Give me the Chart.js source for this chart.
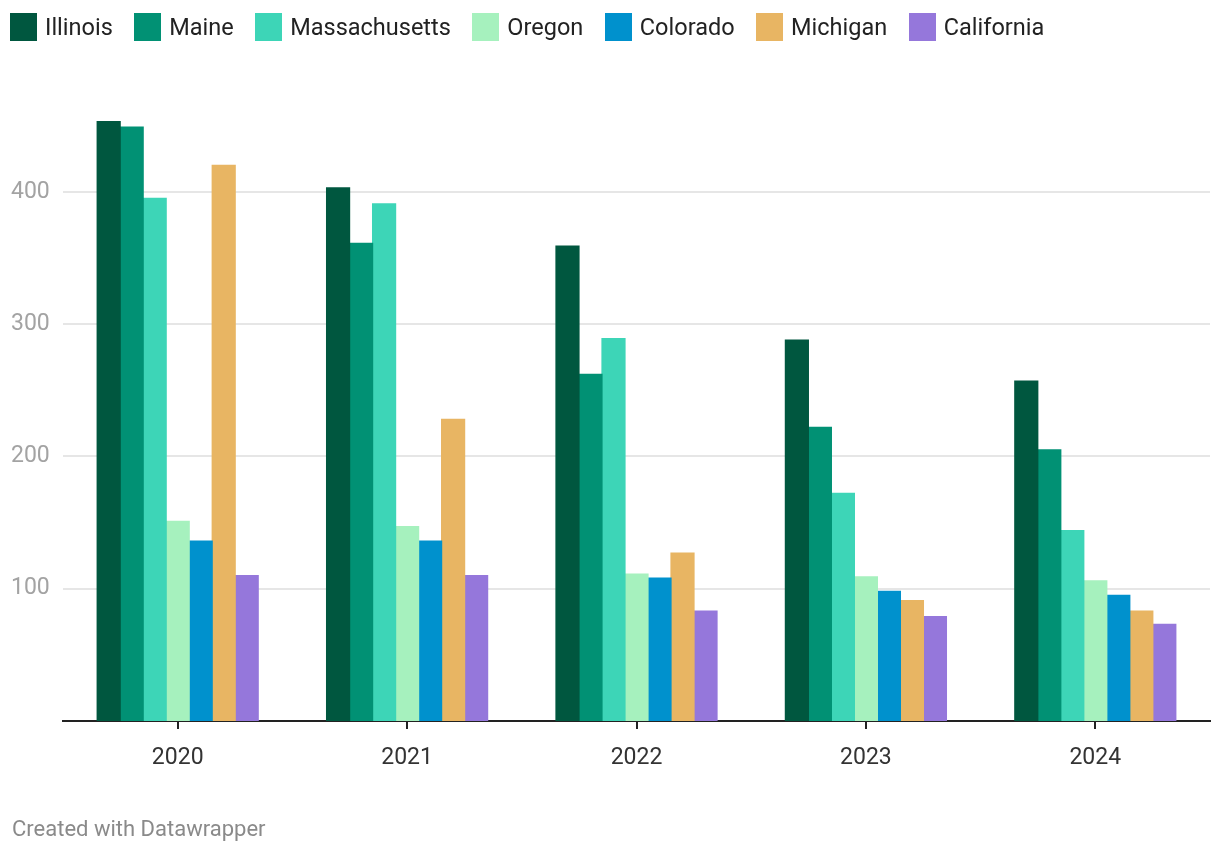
<!DOCTYPE html>
<html>
<head>
<meta charset="utf-8">
<script src="https://cdn.jsdelivr.net/npm/chart.js@4.4.0/dist/chart.umd.min.js"></script>
<style>
  html, body { margin: 0; padding: 0; background: #fff; }
  body { width: 1220px; height: 854px; position: relative; overflow: hidden; font-family: Roboto, "Noto Sans", sans-serif; }
  #legend { position: absolute; left: 10px; top: 13px; display: flex; gap: 21.5px; align-items: center; }
  .item { display: flex; align-items: center; }
  .box { width: 27px; height: 28px; margin-right: 8px; }
  .lab { font-size: 23.5px; color: #222; line-height: 28px; }
  #wrap { position: absolute; left: 0; top: 0; width: 1220px; height: 854px; }
  #footer { position: absolute; left: 12px; top: 815px; font-size: 22px; color: #8a8a8a; line-height: 28px; }
</style>
</head>
<body>
<div id="wrap"><canvas id="c" width="1220" height="854"></canvas></div>
<div id="legend"></div>
<div id="footer">Created with Datawrapper</div>
<script>
const categories = ["2020", "2021", "2022", "2023", "2024"];
const seriesNames = ["Illinois", "Maine", "Massachusetts", "Oregon", "Colorado", "Michigan", "California"];
const seriesColors = ["#00573f", "#019174", "#3dd5b7", "#a6f1be", "#0091cd", "#e8b563", "#9577db"];
const illinois      = [453, 403, 359, 288, 257];
const maine         = [449, 361, 262, 222, 205];
const massachusetts = [395, 391, 289, 172, 144];
const oregon        = [151, 147, 111, 109, 106];
const colorado      = [136, 136, 108, 98, 95];
const michigan      = [420, 228, 127, 91, 83];
const california    = [110, 110, 83, 79, 73];
const yTicks = [100, 200, 300, 400];

const seriesValues = [illinois, maine, massachusetts, oregon, colorado, michigan, california];

const legend = document.getElementById('legend');
seriesNames.forEach((n, i) => {
  const it = document.createElement('div'); it.className = 'item';
  const b = document.createElement('div'); b.className = 'box'; b.style.background = seriesColors[i];
  const l = document.createElement('span'); l.className = 'lab'; l.textContent = n;
  it.appendChild(b); it.appendChild(l); legend.appendChild(it);
});

new Chart(document.getElementById('c'), {
  type: 'bar',
  data: {
    labels: categories,
    datasets: seriesNames.map((n, i) => ({
      label: n,
      data: seriesValues[i],
      backgroundColor: seriesColors[i],
      borderWidth: 0,
      inflateAmount: 0.6,
      categoryPercentage: 0.702,
      barPercentage: 1.0
    }))
  },
  options: {
    responsive: false,
    animation: false,
    devicePixelRatio: 1,
    layout: { padding: { top: 86, left: 11, right: 10, bottom: 83 } },
    plugins: { legend: { display: false }, tooltip: { enabled: false } },
    scales: {
      x: {
        afterFit: s => { s.height = 50; },
        grid: { display: true, drawOnChartArea: false, drawTicks: true, tickLength: 8, offset: false, color: '#222', lineWidth: 2 },
        border: { display: true, color: '#222', width: 2 },
        ticks: { font: { family: 'Roboto', size: 23 }, color: '#333', padding: 15 }
      },
      y: {
        min: 0, max: 480,
        afterFit: s => { s.width = 52; },
        afterBuildTicks: s => { s.ticks = yTicks.map(v => ({ value: v })); },
        grid: { color: '#e6e6e6', lineWidth: 2, drawTicks: false },
        border: { display: false },
        ticks: { font: { family: 'Roboto', size: 23 }, color: '#a3a3a3', crossAlign: 'far', padding: 0 }
      }
    }
  }
});
</script>
</body>
</html>
